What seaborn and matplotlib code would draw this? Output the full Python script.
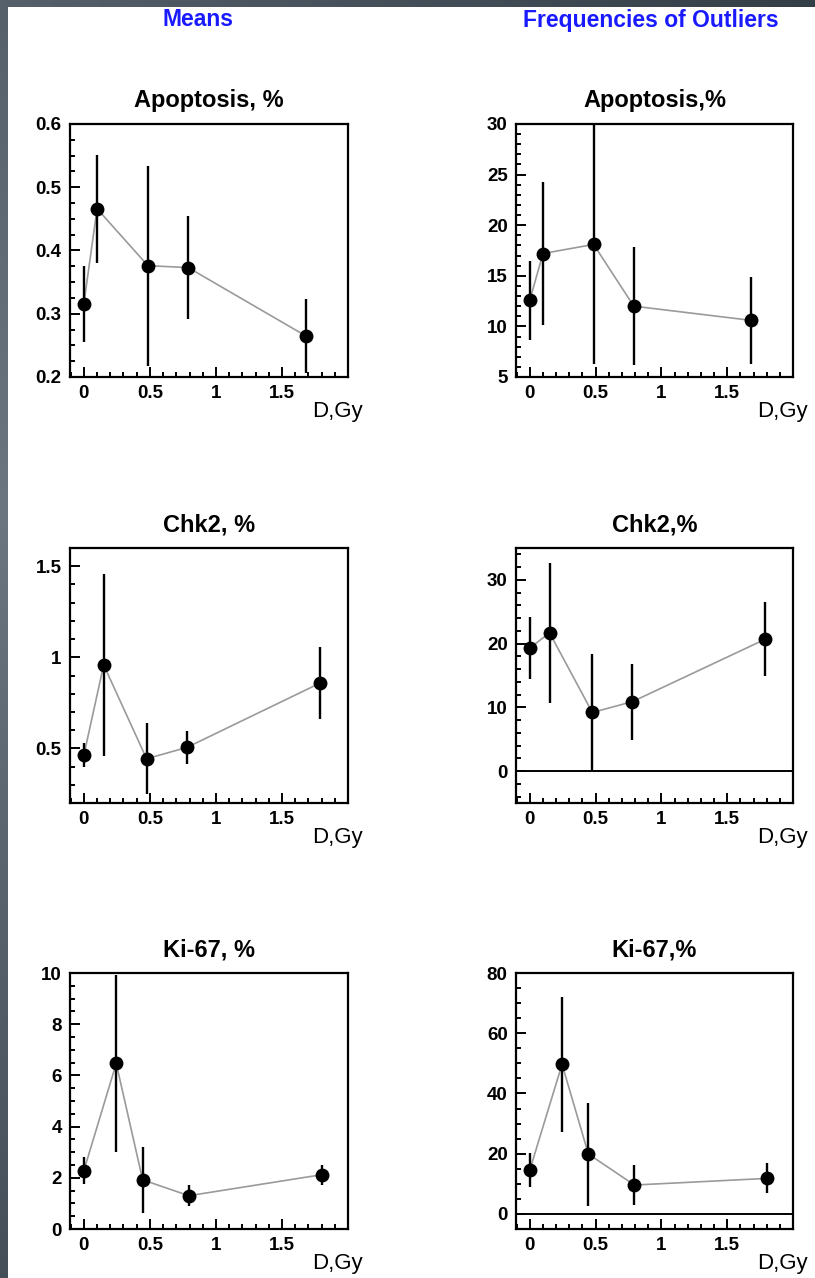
import numpy as np
import pandas as pd
import matplotlib
matplotlib.use("Agg")
import matplotlib.pyplot as plt
from matplotlib.patches import Rectangle
from matplotlib.ticker import MultipleLocator, FixedLocator, FuncFormatter
import seaborn as sns

# ---- data -------------------------------------------------------------
dose_apop = [0.0, 0.1, 0.485, 0.79, 1.68]
means_apop = [0.316, 0.466, 0.376, 0.373, 0.265]
means_apop_err = [0.060, 0.085, 0.158, 0.082, 0.058]
outl_apop = [12.6, 17.2, 18.1, 12.0, 10.6]
outl_apop_err = [3.9, 7.1, 11.8, 5.85, 4.3]

dose_chk2 = [0.0, 0.15, 0.475, 0.78, 1.79]
means_chk2 = [0.463, 0.958, 0.443, 0.505, 0.859]
means_chk2_err = [0.065, 0.50, 0.195, 0.09, 0.20]
outl_chk2 = [19.3, 21.7, 9.2, 10.9, 20.7]
outl_chk2_err = [4.85, 11.0, 9.1, 5.95, 5.85]

dose_ki67 = [0.0, 0.245, 0.445, 0.795, 1.80]
means_ki67 = [2.28, 6.47, 1.92, 1.30, 2.12]
means_ki67_err = [0.52, 3.45, 1.30, 0.41, 0.39]
outl_ki67 = [14.6, 49.7, 19.9, 9.6, 11.8]
outl_ki67_err = [5.6, 22.4, 17.1, 6.7, 5.0]

column_titles = ["Means", "Frequencies of Outliers"]
panel_titles = [["Apoptosis, %", "Apoptosis,%"],
                ["Chk2, %", "Chk2,%"],
                ["Ki-67, %", "Ki-67,%"]]
x_major = [0, 0.5, 1, 1.5]
x_label = "D,Gy"

# ---- style ------------------------------------------------------------
sns.set_theme(style="white")
plt.rcParams["font.family"] = ["Liberation Sans", "DejaVu Sans"]
plt.rcParams["text.color"] = "black"
plt.rcParams["axes.labelcolor"] = "black"
plt.rcParams["xtick.color"] = "black"
plt.rcParams["ytick.color"] = "black"

W, H = 815, 1278
fig = plt.figure(figsize=(W / 100, H / 100), dpi=100)

# slate frame around the white page
bg = fig.add_axes([0, 0, 1, 1], zorder=-10)
ys = np.linspace(0, 1, 256)[:, None]
xs = np.linspace(0, 1, 256)[None, :]
left_c0 = np.array([0x55, 0x60, 0x6a]) / 255
left_mid = np.array([0x6b, 0x76, 0x81]) / 255
left_c1 = np.array([0x44, 0x4f, 0x59]) / 255
right_top = np.array([0x34, 0x3e, 0x47]) / 255
t = ys[..., None]
vert = np.where(t < 0.4, left_c0 + (left_mid - left_c0) * (t / 0.4),
                left_mid + (left_c1 - left_mid) * ((t - 0.4) / 0.6))
horiz = (right_top - left_c0) * xs[..., None]
grad = np.clip(vert + horiz, 0, 1)
bg.imshow(grad, extent=[0, 1, 0, 1], aspect="auto", origin="upper")
bg.add_patch(Rectangle((8 / W, 0), 1, 1 - 7 / H, transform=bg.transAxes,
                       facecolor="white", edgecolor="none"))
bg.set_xlim(0, 1)
bg.set_ylim(0, 1)
bg.axis("off")

# column headers
for txt, cx in zip(column_titles, [198, 651]):
    fig.text(cx / W, 1 - 20 / H, txt, color="#1a1aff", fontsize=16.5,
             fontweight="bold", ha="center", va="center")

col_left = [70, 516]
col_w = [278, 277]
row_tb = [(124, 377), (548, 803), (973, 1229)]

panels = [
    [(dose_apop, means_apop, means_apop_err, (0.2, 0.6), np.arange(0.2, 0.61, 0.1), 0.025, False),
     (dose_apop, outl_apop, outl_apop_err, (5, 30), np.arange(5, 31, 5), 1, False)],
    [(dose_chk2, means_chk2, means_chk2_err, (0.2, 1.6), [0.5, 1.0, 1.5], 0.1, False),
     (dose_chk2, outl_chk2, outl_chk2_err, (-5, 35), [0, 10, 20, 30], 2, True)],
    [(dose_ki67, means_ki67, means_ki67_err, (0, 10), np.arange(0, 11, 2), 0.5, False),
     (dose_ki67, outl_ki67, outl_ki67_err, (-5, 80), np.arange(0, 81, 20), 5, True)],
]

fmt = FuncFormatter(lambda v, p: f"{v:g}")

for r, (top, bot) in enumerate(row_tb):
    for c in range(2):
        x, y, e, ylim, yt, ymin_step, zero_line = panels[r][c]
        ax = fig.add_axes([col_left[c] / W, 1 - bot / H, col_w[c] / W, (bot - top) / H])
        df = pd.DataFrame({"dose": x, "value": y, "err": e})

        ax.errorbar(df["dose"], df["value"], yerr=df["err"], fmt="none",
                    ecolor="black", elinewidth=1.7, capsize=0, zorder=3)
        sns.lineplot(data=df, x="dose", y="value", ax=ax, color="#9a9a9a",
                     linewidth=1.2, sort=False, zorder=2)
        sns.scatterplot(data=df, x="dose", y="value", ax=ax, color="black",
                        s=100, edgecolor="black", linewidth=0, zorder=4)
        if zero_line:
            ax.axhline(0, color="black", linewidth=1.4, zorder=1)

        ax.set_xlim(-0.105, 2.0)
        ax.set_ylim(*ylim)
        ax.xaxis.set_major_locator(FixedLocator(x_major))
        ax.xaxis.set_minor_locator(MultipleLocator(0.1))
        ax.yaxis.set_major_locator(FixedLocator(list(yt)))
        ax.yaxis.set_minor_locator(MultipleLocator(ymin_step))
        ax.xaxis.set_major_formatter(fmt)
        ax.yaxis.set_major_formatter(fmt)
        ax.tick_params(axis="both", which="both", direction="in",
                       top=False, right=False, bottom=True, left=True,
                       color="black", width=1.4)
        ax.tick_params(axis="both", which="major", length=7.5, labelsize=13.5,
                       pad=6)
        ax.tick_params(axis="both", which="minor", length=3.8)
        for lbl in ax.get_xticklabels() + ax.get_yticklabels():
            lbl.set_fontweight("bold")
        for sp in ax.spines.values():
            sp.set_visible(True)
            sp.set_color("black")
            sp.set_linewidth(1.6)
        ax.set_xlabel("")
        ax.set_ylabel("")
        ax.set_title(panel_titles[r][c], fontsize=17, fontweight="bold", pad=12,
                     color="black")
        ax.text(1.052, -0.158, x_label, transform=ax.transAxes, ha="right",
                va="baseline", fontsize=16, color="black")
        ax.set_facecolor("white")

fig.savefig("out.png", dpi=100)
